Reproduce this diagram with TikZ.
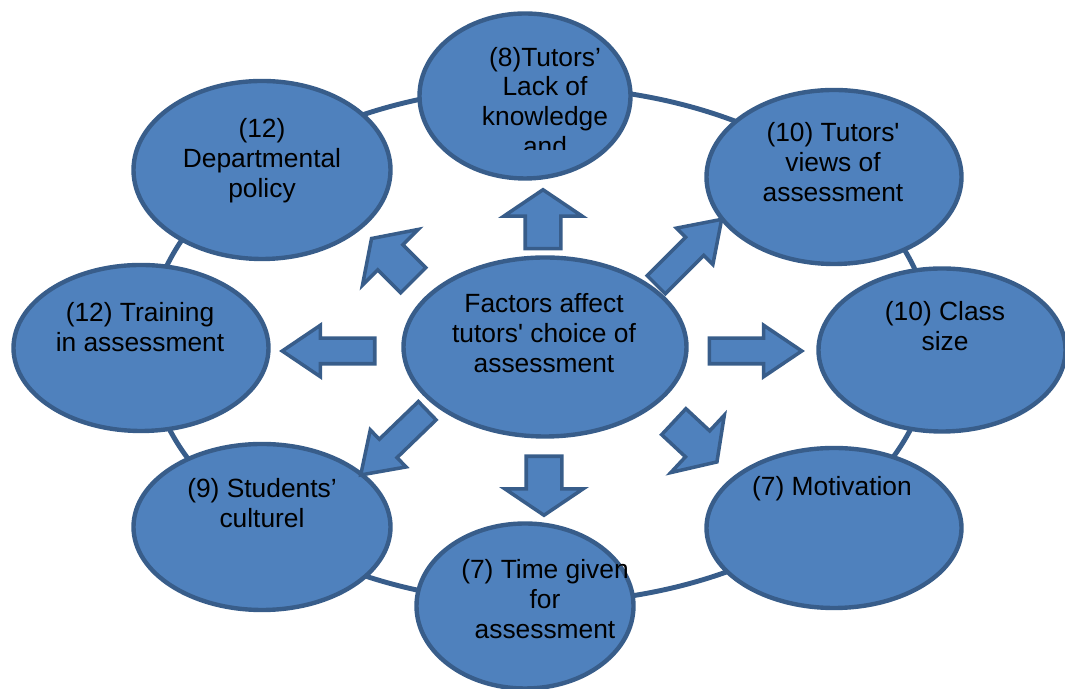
\documentclass[tikz,border=0pt]{standalone}
\usepackage{fontspec}
\newfontfamily\labelfont{Liberation Sans}
\usetikzlibrary{shapes.geometric,shapes.arrows}

\definecolor{fillblue}{HTML}{4F81BD}
\definecolor{edgeblue}{HTML}{385D8A}

\tikzset{
    factor/.style={ellipse, draw=edgeblue, fill=fillblue, line width=2.5pt, inner sep=0pt},
    factortext/.style={align=center, inner sep=0pt, font=\labelfont\fontsize{15}{17}\selectfont},
    blockarrow/.style={single arrow, draw=edgeblue, fill=fillblue, line width=2pt,
        inner xsep=0pt, anchor=tail},
    fatarrow/.style={blockarrow, minimum height=1.18cm, inner ysep=0.32cm,
        single arrow head extend=0.43cm, single arrow tip angle=112},
    thinarrow/.style={blockarrow, minimum height=1.85cm, inner ysep=0.22cm,
        single arrow head extend=0.26cm, single arrow tip angle=68}
}

\begin{document}
\begin{tikzpicture}

\clip (0,0) rectangle (21.3,13.78);

% Ring linking the factors
\draw[edgeblue, line width=2.8pt] (10.8,6.88) ellipse (7.84 and 5.16);

% Factors
\node[factor, minimum width=4.22cm, minimum height=3.30cm] (lack) at (10.50,11.86) {};
\node[factor, minimum width=5.14cm, minimum height=3.56cm] (dept) at (5.24,10.38) {};
\node[factor, minimum width=5.10cm, minimum height=3.48cm] (views) at (16.68,10.24) {};
\node[factor, minimum width=5.10cm, minimum height=3.32cm] (train) at (2.82,6.82) {};
\node[factor, minimum width=4.94cm, minimum height=3.26cm] (class) at (18.84,6.78) {};
\node[factor, minimum width=5.14cm, minimum height=3.32cm] (culture) at (5.24,3.24) {};
\node[factor, minimum width=5.10cm, minimum height=3.20cm] (motiv) at (16.68,3.22) {};
\node[factor, minimum width=4.34cm, minimum height=3.30cm] (time) at (10.50,1.66) {};

% Centre
\node[factor, minimum width=5.66cm, minimum height=3.58cm] (hub) at (10.90,6.84) {};

% Texts (the top one runs out of its box)
\begin{scope}
    \clip (8.4,10.78) rectangle (13.4,13.78);
    \node[factortext] (lack-txt) at (10.90,11.75) {(8)Tutors’\\Lack of\\knowledge\\and};
\end{scope}
\node[factortext] (dept-txt) at (5.24,10.56) {(12)\\Departmental\\policy};
\node[factortext] (views-txt) at (16.66,10.54) {(10) Tutors'\\views of\\assessment};
\node[factortext] (train-txt) at (2.80,7.24) {(12) Training\\in assessment};
\node[factortext] (class-txt) at (18.90,7.26) {(10) Class\\size};
\node[factortext] (culture-txt) at (5.24,3.72) {(9) Students’\\culturel};
\node[factortext] (motiv-txt) at (16.64,4.00) {(7) Motivation};
\node[factortext] (time-txt) at (10.90,1.80) {(7) Time given\\for\\assessment};
\node[factortext] (hub-txt) at (10.88,7.12) {Factors affect\\tutors' choice of\\assessment};

% Block arrows out of the centre
\node[fatarrow, rotate=90] (to-lack) at (10.86,8.77) {};
\node[fatarrow, rotate=-90] (to-time) at (10.88,4.69) {};
\node[fatarrow, rotate=135] (to-dept) at (8.29,8.15) {};
\node[fatarrow, rotate=-43] (to-motiv) at (13.45,5.37) {};
\node[thinarrow, rotate=180] (to-train) at (7.53,6.76) {};
\node[thinarrow] (to-class) at (14.15,6.76) {};
\node[thinarrow, rotate=45] (to-views) at (13.10,8.06) {};
\node[thinarrow, rotate=224] (to-culture) at (8.57,5.59) {};

\end{tikzpicture}
\end{document}
